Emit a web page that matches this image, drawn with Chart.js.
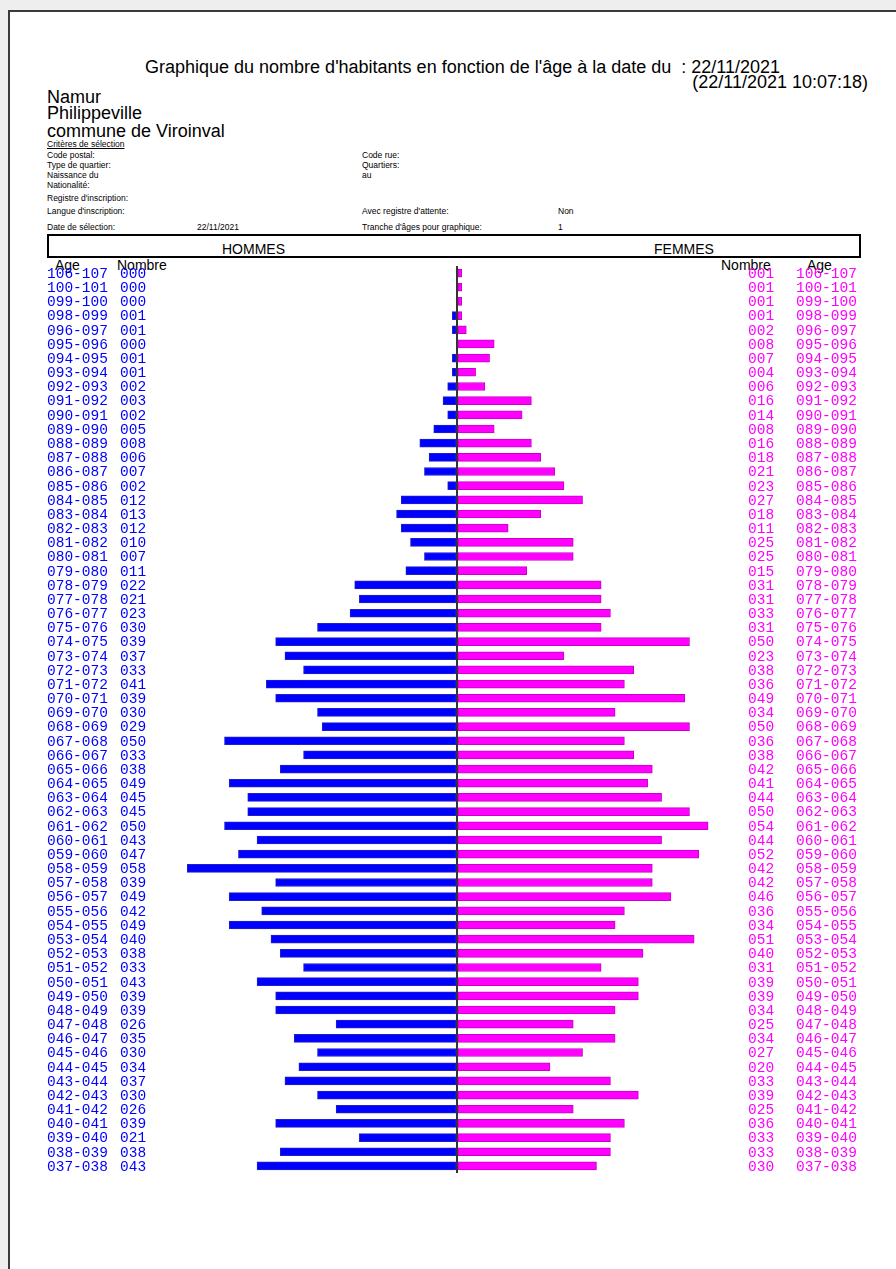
<!DOCTYPE html>
<html>
<head>
<meta charset="utf-8">
<script src="https://cdn.jsdelivr.net/npm/chart.js@4/dist/chart.umd.min.js"></script>
<style>
    html, body { margin: 0; padding: 0; }
    body { width: 896px; height: 1269px; background: #eeeeee; position: relative; overflow: hidden; font-family: "Liberation Sans", Arial, sans-serif; }
    .page { position: absolute; left: 8px; top: 10px; width: 900px; height: 1270px; background: #fff; border-left: 2px solid #3a3a3a; border-top: 2px solid #3a3a3a; }
    .t { position: absolute; white-space: nowrap; color: #000; line-height: 1; }
    .big { font-size: 18px; }
    .sm { font-size: 8.5px; font-family: "Liberation Sans Narrow", "Liberation Sans", Arial, sans-serif; }
    .u { text-decoration: underline; }
    .box { position: absolute; left: 47px; top: 234px; width: 810px; height: 20px; border: 2px solid #000; }
    #wrap { position: absolute; left: 0; top: 258px; width: 896px; height: 1000px; }
</style>
</head>
<body>
<div class="page"></div>
<div class="t big" style="left:145px;top:58px;">Graphique du nombre d'habitants en fonction de l'âge à la date du&nbsp; : 22/11/2021</div>
<div class="t big" style="right:28px;top:73px;">(22/11/2021 10:07:18)</div>
<div class="t big" style="left:47px;top:88px;">Namur</div>
<div class="t big" style="left:47px;top:104px;">Philippeville</div>
<div class="t big" style="left:47px;top:122px;">commune de Viroinval</div>
<div class="t sm u" style="left:47px;top:140px;">Critères de sélection</div>
<div class="t sm" style="left:47px;top:151px;">Code postal:</div>
<div class="t sm" style="left:362px;top:151px;">Code rue:</div>
<div class="t sm" style="left:47px;top:161px;">Type de quartier:</div>
<div class="t sm" style="left:362px;top:161px;">Quartiers:</div>
<div class="t sm" style="left:47px;top:171px;">Naissance du</div>
<div class="t sm" style="left:362px;top:171px;">au</div>
<div class="t sm" style="left:47px;top:181px;">Nationalité:</div>
<div class="t sm" style="left:47px;top:194px;">Registre d'inscription:</div>
<div class="t sm" style="left:47px;top:207px;">Langue d'inscription:</div>
<div class="t sm" style="left:362px;top:207px;">Avec registre d'attente:</div>
<div class="t sm" style="left:558px;top:207px;">Non</div>
<div class="t sm" style="left:47px;top:223px;">Date de sélection:</div>
<div class="t sm" style="left:197px;top:223px;">22/11/2021</div>
<div class="t sm" style="left:362px;top:223px;">Tranche d'âges pour graphique:</div>
<div class="t sm" style="left:558px;top:223px;">1</div>
<div class="box"></div>
<div class="t" style="left:222px;top:242px;font-size:14px;">HOMMES</div>
<div class="t" style="left:654px;top:242px;font-size:14px;">FEMMES</div>
<div class="t" style="left:55px;top:258px;font-size:14px;">Age</div>
<div class="t" style="left:117px;top:258px;font-size:14px;">Nombre</div>
<div class="t" style="left:721px;top:258px;font-size:14px;">Nombre</div>
<div class="t" style="left:807px;top:258px;font-size:14px;">Age</div>
<div id="wrap"><canvas id="pyramide" width="896" height="1000"></canvas></div>

<script>
// tranches d'âge, du haut vers le bas
const tranches = ['106-107', '100-101', '099-100', '098-099', '096-097', '095-096', '094-095', '093-094',
    '092-093', '091-092', '090-091', '089-090', '088-089', '087-088', '086-087', '085-086',
    '084-085', '083-084', '082-083', '081-082', '080-081', '079-080', '078-079', '077-078',
    '076-077', '075-076', '074-075', '073-074', '072-073', '071-072', '070-071', '069-070',
    '068-069', '067-068', '066-067', '065-066', '064-065', '063-064', '062-063', '061-062',
    '060-061', '059-060', '058-059', '057-058', '056-057', '055-056', '054-055', '053-054',
    '052-053', '051-052', '050-051', '049-050', '048-049', '047-048', '046-047', '045-046',
    '044-045', '043-044', '042-043', '041-042', '040-041', '039-040', '038-039', '037-038'];

const hommes = [0, 0, 0, 1, 1, 0, 1, 1, 2, 3, 2, 5, 8, 6, 7, 2,
    12, 13, 12, 10, 7, 11, 22, 21, 23, 30, 39, 37, 33, 41, 39, 30,
    29, 50, 33, 38, 49, 45, 45, 50, 43, 47, 58, 39, 49, 42, 49, 40,
    38, 33, 43, 39, 39, 26, 35, 30, 34, 37, 30, 26, 39, 21, 38, 43];

const femmes = [1, 1, 1, 1, 2, 8, 7, 4, 6, 16, 14, 8, 16, 18, 21, 23,
    27, 18, 11, 25, 25, 15, 31, 31, 33, 31, 50, 23, 38, 36, 49, 34,
    50, 36, 38, 42, 41, 44, 50, 54, 44, 52, 42, 42, 46, 36, 34, 51,
    40, 31, 39, 39, 34, 25, 34, 27, 20, 33, 39, 25, 36, 33, 33, 30];

const axeMax = 60;

function pad3(v) {
    return String(v).padStart(3, '0');
}

const etiquettesPlugin = {
    id: 'etiquettes',
    afterDraw: function(chart) {
        const ctx = chart.ctx;
        const y = chart.scales.y;
        ctx.save();
        ctx.font = '14.5px "Liberation Mono", "DejaVu Sans Mono", monospace';
        ctx.textBaseline = 'middle';
        tranches.forEach(function(label, i) {
            const py = y.getPixelForValue(i) + 1;
            ctx.fillStyle = '#0000ff';
            ctx.fillText(label, 47, py);
            ctx.fillText(pad3(hommes[i]), 120, py);
            ctx.fillStyle = '#ff00ff';
            ctx.fillText(pad3(femmes[i]), 748, py);
            ctx.fillText(label, 796, py);
        });
        ctx.restore();
    }
};

new Chart(document.getElementById('pyramide'), {
    type: 'bar',
    data: {
        labels: tranches,
        datasets: [{
            label: 'Hommes',
            data: hommes.map(function(v) { return -v; }),
            backgroundColor: '#0000ff',
            borderColor: '#2020c8',
            borderWidth: 1,
            borderSkipped: false,
            barThickness: 8
        }, {
            label: 'Femmes',
            data: femmes,
            backgroundColor: '#ff00ff',
            borderColor: '#c800c8',
            borderWidth: 1,
            borderSkipped: false,
            barThickness: 8
        }]
    },
    options: {
        indexAxis: 'y',
        responsive: false,
        animation: false,
        devicePixelRatio: 1,
        layout: {
            padding: { left: 178, right: 160, top: 8, bottom: 85 }
        },
        plugins: {
            legend: { display: false },
            tooltip: { enabled: false }
        },
        scales: {
            x: {
                stacked: true,
                min: -axeMax,
                max: axeMax,
                z: 1,
                ticks: { display: false, stepSize: 60 },
                border: { display: false },
                grid: {
                    drawTicks: false,
                    lineWidth: 2,
                    color: function(context) {
                        return context.tick && context.tick.value === 0 ? '#333333' : 'rgba(0,0,0,0)';
                    }
                }
            },
            y: {
                stacked: true,
                display: false
            }
        }
    },
    plugins: [etiquettesPlugin]
});
</script>
</body>
</html>
